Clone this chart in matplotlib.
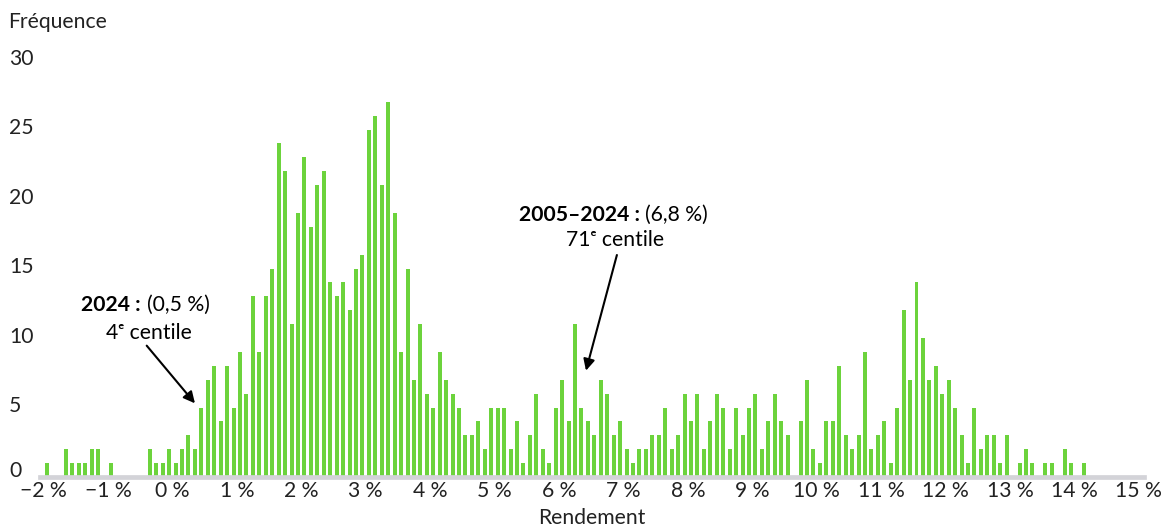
import numpy as np
import matplotlib.pyplot as plt
from matplotlib.transforms import blended_transform_factory

plt.rcParams['font.family'] = ['Lato', 'DejaVu Sans']

# Data: left edge of each 0.1 % return bin and the count of years in it
bin_left = np.round(np.arange(-2.0, 14.2, 0.1), 1)
frequence = [
    1, 0, 0, 2, 1, 1, 1, 2, 2, 0, 1,
    0, 0, 0, 0, 0, 2, 1, 1, 2, 1,
    2, 3, 2, 5, 7, 8, 4, 8, 5, 9,
    6, 13, 9, 13, 15, 24, 22, 11, 19, 23,
    18, 21, 22, 14, 13, 14, 12, 15, 16, 25,
    26, 21, 27, 19, 9, 15, 7, 11, 6, 5,
    9, 7, 6, 5, 3, 3, 4, 2, 5, 5,
    5, 2, 4, 1, 3, 6, 2, 1, 5, 7,
    4, 11, 5, 4, 3, 7, 6, 3, 4, 2,
    1, 2, 2, 3, 3, 5, 2, 3, 6, 4,
    6, 2, 4, 6, 5, 2, 5, 3, 5, 6,
    2, 4, 6, 4, 3, 0, 4, 7, 2, 1,
    4, 4, 8, 3, 2, 3, 9, 2, 3, 4,
    1, 5, 12, 7, 14, 10, 7, 8, 6, 7,
    5, 3, 1, 5, 2, 3, 3, 1, 3, 0,
    1, 2, 1, 0, 1, 1, 0, 2, 1, 0, 1,
]
xtick_vals = list(range(-2, 16))
xtick_labels = [f"{v} %".replace("-", "\u2212") for v in xtick_vals]
ytick_vals = [0, 5, 10, 15, 20, 25, 30]

W, H = 1162, 527
fig = plt.figure(figsize=(W / 100, H / 100), dpi=100)
ax = fig.add_axes([40 / W, 50 / H, 1104 / W, 417 / H])

green = '#6cd33c'
ax.bar(bin_left + 0.05, frequence, width=0.062, color=green, zorder=2)
ax.axhline(0, color='#d3d3d8', lw=3.4, zorder=3, clip_on=False)

ax.set_xlim(-2.054, 15.081)
ax.set_ylim(0, 30)
for s in ax.spines.values():
    s.set_visible(False)

fs = 15.2
ax.set_xticks(xtick_vals, xtick_labels, fontsize=fs, color='#222222')
ax.tick_params(axis='x', length=0, pad=3)
ax.set_yticks([])

# y labels left-aligned at the figure edge
trans = blended_transform_factory(fig.transFigure, ax.transData)
for v in ytick_vals:
    yy = v + 0.45 if v == 0 else v + 0.1
    ax.text(9 / W, yy, str(v), transform=trans, ha='left', va='center',
            fontsize=fs, color='#222222')

fig.text(8 / W, 1 - 22 / H, "Fréquence", ha='left', va='center',
         fontsize=fs, color='#222222')
fig.text(592 / W, 1 - 518 / H, "Rendement", ha='center', va='center',
         fontsize=fs, color='#222222')

# annotations
ax.text(-0.49, 12.37, "2024 :", ha='right', va='center', fontsize=fs,
        fontweight='bold', color='black')
ax.text(-0.40, 12.37, "(0,5 %)", ha='left', va='center', fontsize=fs,
        color='black')
ax.text(-0.363, 10.36, "4ᵉ centile", ha='center', va='center', fontsize=fs,
        color='black')
ax.annotate('', xy=(0.351, 5.3), xytext=(-0.398, 9.45),
            arrowprops=dict(arrowstyle='-|>', color='black', lw=1.5,
                            mutation_scale=17, shrinkA=0, shrinkB=0))

ax.text(7.265, 18.85, "2005–2024 :", ha='right', va='center', fontsize=fs,
        fontweight='bold', color='black')
ax.text(7.335, 18.85, "(6,8 %)", ha='left', va='center', fontsize=fs,
        color='black')
ax.text(6.87, 17.05, "71ᵉ centile", ha='center', va='center', fontsize=fs,
        color='black')
ax.annotate('', xy=(6.42, 7.65), xytext=(6.90, 15.97),
            arrowprops=dict(arrowstyle='-|>', color='black', lw=1.5,
                            mutation_scale=17, shrinkA=0, shrinkB=0))

fig.savefig('out.png', dpi=100)
